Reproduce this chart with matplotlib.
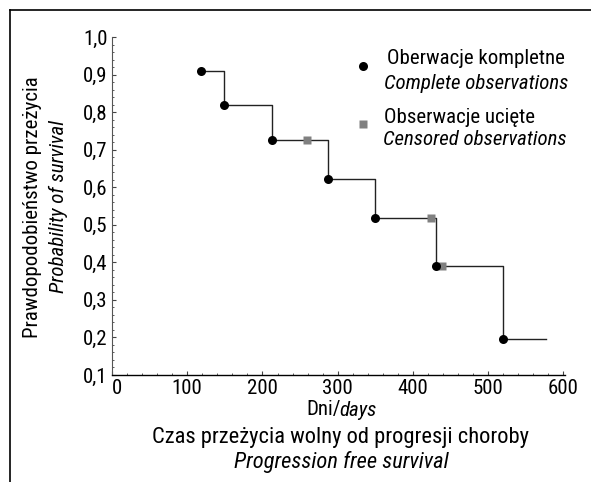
import matplotlib
matplotlib.use("Agg")
import matplotlib.pyplot as plt
from matplotlib.lines import Line2D
from matplotlib.ticker import MultipleLocator

plt.rcParams['font.family'] = ['Roboto Condensed', 'Archivo Narrow', 'DejaVu Sans']

# Data
event_times = [118, 149, 212, 287, 349, 431, 520]
event_surv = [0.909, 0.818, 0.727, 0.623, 0.519, 0.389, 0.195]
censor_times = [259, 424, 438]
censor_surv = [0.727, 0.519, 0.389]
end_time = 577

x_ticks = [0, 100, 200, 300, 400, 500, 600]
y_ticks = [0.1, 0.2, 0.3, 0.4, 0.5, 0.6, 0.7, 0.8, 0.9, 1.0]
y_ticklabels = ["0,1", "0,2", "0,3", "0,4", "0,5", "0,6", "0,7", "0,8", "0,9", "1,0"]

FS = 15

fig = plt.figure(figsize=(5.91, 4.82), dpi=100)
ax = fig.add_axes([112/591, 1-375/482, (565-112)/591, (375-37)/482])

# step curve
sx = event_times + [end_time]
sy = event_surv + [event_surv[-1]]
ax.plot(sx, sy, drawstyle='steps-post', color='#222222', lw=1.0, zorder=2)
ax.plot(censor_times, censor_surv, 's', color='#808080', ms=5.5, mec='none', zorder=3)
ax.plot(event_times, event_surv, 'o', color='black', ms=6.5, mec='none', zorder=4)

ax.set_xlim(0, 602)
ax.set_ylim(0.1, 1.0)
ax.set_xticks(x_ticks)
ax.set_xticklabels([str(v) for v in x_ticks])
ax.set_yticks(y_ticks)
ax.set_yticklabels(y_ticklabels)
ax.xaxis.set_minor_locator(MultipleLocator(20))
ax.yaxis.set_minor_locator(MultipleLocator(0.02))
ax.tick_params(which='major', direction='in', length=3, width=0.8, labelsize=FS, pad=3, color='#444444')
ax.tick_params(which='minor', direction='in', length=1.5, width=0.6, color='#444444')
for lab in ax.get_xticklabels():
    if lab.get_text() == "0":
        lab.set_horizontalalignment('left')
ax.spines['top'].set_visible(False)
ax.spines['right'].set_visible(False)
ax.spines['left'].set_color('#555555')
ax.spines['bottom'].set_linewidth(1.0)

# Legend (manual)
ax.plot([0.5545], [0.913], 'o', color='black', ms=6.5, mec='none', transform=ax.transAxes, clip_on=False)
ax.text(0.606, 0.935, "Oberwacje kompletne", transform=ax.transAxes, fontsize=FS, va='center', ha='left')
ax.text(0.600, 0.862, "Complete observations", transform=ax.transAxes, fontsize=FS, va='center', ha='left', style='italic')
ax.plot([0.554], [0.743], 's', color='#808080', ms=5.5, mec='none', transform=ax.transAxes, clip_on=False)
ax.text(0.600, 0.763, "Obserwacje ucięte", transform=ax.transAxes, fontsize=FS, va='center', ha='left')
ax.text(0.598, 0.697, "Censored observations", transform=ax.transAxes, fontsize=FS, va='center', ha='left', style='italic')

# Axis labels
fig.text(341/591, 1-410/482, "Dni/", fontsize=FS, ha='right', va='center')
fig.text(339/591, 1-410/482, "days", fontsize=FS, ha='left', va='center', style='italic')
fig.text(340/591, 1-437/482, "Czas przeżycia wolny od progresji choroby", fontsize=16.2, ha='center', va='center')
fig.text(341/591, 1-462/482, "Progression free survival", fontsize=16.2, ha='center', va='center', style='italic')
fig.text(33/591, 1-207/482, "Prawdopodobieństwo przeżycia", fontsize=FS, ha='center', va='center', rotation=90)
fig.text(58/591, 1-207/482, "Probability of survival", fontsize=FS, ha='center', va='center', rotation=90, style='italic')

# Frame lines (top and left)
fig.add_artist(Line2D([10/591, 1.0], [1-10/482, 1-10/482], transform=fig.transFigure, color='black', lw=1.2))
fig.add_artist(Line2D([10/591, 10/591], [0, 1-10/482], transform=fig.transFigure, color='black', lw=1.2))

fig.savefig("out.png", dpi=100)
